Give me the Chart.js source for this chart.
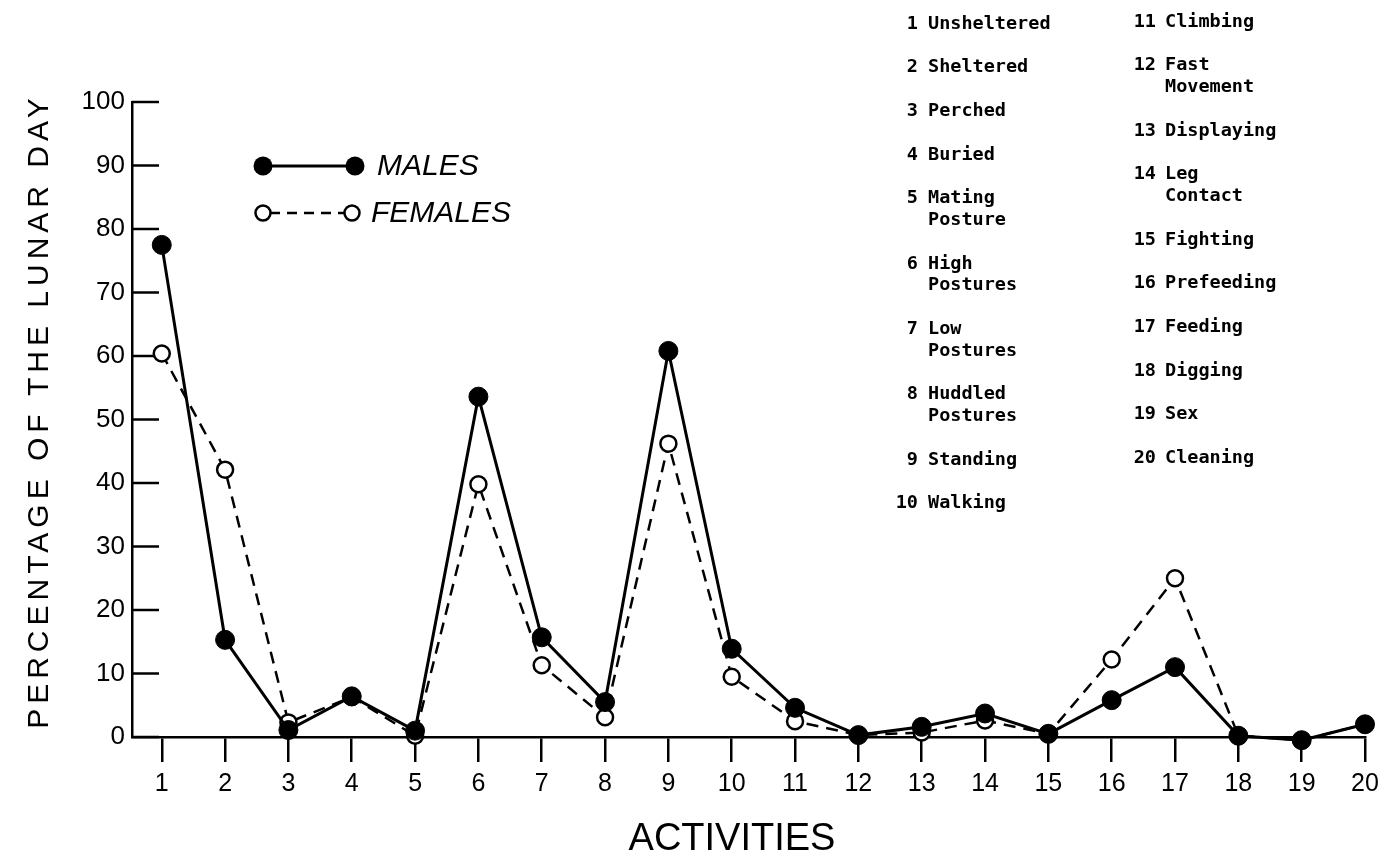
<!DOCTYPE html>
<html lang="en">
<head>
    <meta charset="UTF-8">
    <title>Percentage of the Lunar Day by Activity</title>
    <script src="https://cdn.jsdelivr.net/npm/chart.js"></script>
    <style>
        html, body { margin: 0; padding: 0; background: #fff; }
        #wrap { width: 1386px; height: 859px; position: relative; }
    </style>
</head>
<body>
    <div id="wrap"><canvas id="lunarChart"></canvas></div>
    <script>
        // activity numbers on the x axis and their names in the key
        const activityIds = [1, 2, 3, 4, 5, 6, 7, 8, 9, 10, 11, 12, 13, 14, 15, 16, 17, 18, 19, 20];
        const activityNames = [
            ['Unsheltered'], ['Sheltered'], ['Perched'], ['Buried'], ['Mating', 'Posture'],
            ['High', 'Postures'], ['Low', 'Postures'], ['Huddled', 'Postures'], ['Standing'], ['Walking'],
            ['Climbing'], ['Fast', 'Movement'], ['Displaying'], ['Leg', 'Contact'], ['Fighting'],
            ['Prefeeding'], ['Feeding'], ['Digging'], ['Sex'], ['Cleaning']
        ];
        // percentage of the lunar day
        const malesPct = [77.5, 15.3, 1.1, 6.4, 1.0, 53.6, 15.7, 5.5, 60.8, 13.9, 4.6, 0.3, 1.6, 3.7, 0.5, 5.8, 11.0, 0.2, -0.5, 2.0];
        const femalesPct = [60.4, 42.1, 2.3, 6.3, 0.2, 39.8, 11.3, 3.1, 46.2, 9.5, 2.5, 0.3, 0.7, 2.6, 0.5, 12.2, 25.0, 0.2, -0.5, 2.0];
        const yTicks = [0, 10, 20, 30, 40, 50, 60, 70, 80, 90, 100];

        const FONT = '"Liberation Sans", Arial, sans-serif';
        const MONO = '"DejaVu Sans Mono", monospace';

        // inward tick marks on the y axis
        const yInwardTicks = {
            id: 'yInwardTicks',
            beforeDatasetsDraw(chart) {
                const { ctx, chartArea, scales } = chart;
                ctx.save();
                ctx.strokeStyle = '#000';
                ctx.lineWidth = 2.5;
                yTicks.forEach(v => {
                    const y = scales.y.getPixelForValue(v);
                    ctx.beginPath();
                    ctx.moveTo(chartArea.left, y);
                    ctx.lineTo(chartArea.left + 27, y);
                    ctx.stroke();
                });
                ctx.restore();
            }
        };

        // axis titles (need letter spacing), legend and activity key
        const annotations = {
            id: 'annotations',
            afterDraw(chart) {
                const { ctx } = chart;
                ctx.save();
                ctx.fillStyle = '#000';
                ctx.strokeStyle = '#000';

                // y title
                ctx.save();
                ctx.translate(40, 411);
                ctx.rotate(-Math.PI / 2);
                ctx.font = '30px ' + FONT;
                ctx.letterSpacing = '5px';
                ctx.textAlign = 'center';
                ctx.textBaseline = 'middle';
                ctx.fillText('PERCENTAGE OF THE LUNAR DAY', 0, 0);
                ctx.restore();

                // x title
                ctx.font = '38px ' + FONT;
                ctx.textAlign = 'center';
                ctx.textBaseline = 'middle';
                ctx.fillText('ACTIVITIES', 732, 840);

                // legend
                ctx.lineWidth = 3;
                ctx.beginPath();
                ctx.moveTo(263, 166); ctx.lineTo(355, 166);
                ctx.stroke();
                [263, 355].forEach(x => {
                    ctx.beginPath(); ctx.arc(x, 166, 9.5, 0, Math.PI * 2); ctx.fill();
                });
                ctx.lineWidth = 2.5;
                ctx.setLineDash([10, 7]);
                ctx.beginPath();
                ctx.moveTo(270, 213); ctx.lineTo(345, 213);
                ctx.stroke();
                ctx.setLineDash([]);
                [263, 352].forEach(x => {
                    ctx.beginPath(); ctx.arc(x, 213, 7.5, 0, Math.PI * 2);
                    ctx.fillStyle = '#fff'; ctx.fill();
                    ctx.stroke();
                });
                ctx.fillStyle = '#000';
                ctx.font = 'italic 30px ' + FONT;
                ctx.textAlign = 'left';
                ctx.fillText('MALES', 377, 167);
                ctx.fillText('FEMALES', 371, 214);

                // activity key, two columns
                ctx.font = 'bold 18.5px ' + MONO;
                const lineH = 21.8;
                const cols = [
                    { from: 0, to: 10, numRight: 918, textLeft: 928, y: 24 },
                    { from: 10, to: 20, numRight: 1156, textLeft: 1165, y: 22 }
                ];
                cols.forEach(c => {
                    let y = c.y;
                    for (let i = c.from; i < c.to; i++) {
                        ctx.textAlign = 'right';
                        ctx.fillText(String(activityIds[i]), c.numRight, y);
                        ctx.textAlign = 'left';
                        activityNames[i].forEach((line, k) => ctx.fillText(line, c.textLeft, y + k * lineH));
                        y += (activityNames[i].length + 1) * lineH;
                    }
                });
                ctx.restore();
            }
        };

        const ctx = document.getElementById('lunarChart').getContext('2d');
        new Chart(ctx, {
            type: 'line',
            data: {
                datasets: [
                    {
                        label: 'MALES',
                        data: activityIds.map((a, i) => ({ x: a, y: malesPct[i] })),
                        borderColor: '#000',
                        borderWidth: 3,
                        pointRadius: 9.5,
                        pointBackgroundColor: '#000',
                        pointBorderColor: '#000',
                        pointBorderWidth: 1,
                        tension: 0,
                        clip: false
                    },
                    {
                        label: 'FEMALES',
                        data: activityIds.map((a, i) => ({ x: a, y: femalesPct[i] })),
                        borderColor: '#000',
                        borderWidth: 2.5,
                        borderDash: [12, 8],
                        pointRadius: 8,
                        pointBackgroundColor: '#fff',
                        pointBorderColor: '#000',
                        pointBorderWidth: 2.5,
                        tension: 0,
                        clip: false
                    }
                ]
            },
            options: {
                responsive: true,
                maintainAspectRatio: false,
                animation: false,
                layout: { padding: { top: 102, right: 21, bottom: 0, left: 0 } },
                plugins: { legend: { display: false }, tooltip: { enabled: false } },
                scales: {
                    x: {
                        type: 'linear',
                        min: 0.53,
                        max: 20,
                        afterBuildTicks: s => { s.ticks = activityIds.map(v => ({ value: v })); },
                        afterFit: s => { s.height = 122; },
                        grid: { drawOnChartArea: false, drawTicks: true, tickLength: 25, color: '#000', lineWidth: 2.5 },
                        border: { display: true, color: '#000', width: 2.5 },
                        ticks: { color: '#000', font: { family: FONT, size: 25 }, padding: 7, maxRotation: 0, autoSkip: false }
                    },
                    y: {
                        min: 0,
                        max: 100,
                        afterBuildTicks: s => { s.ticks = yTicks.map(v => ({ value: v })); },
                        afterFit: s => { s.width = 132; },
                        grid: { drawOnChartArea: false, drawTicks: false },
                        border: { display: true, color: '#000', width: 2.5 },
                        ticks: { color: '#000', font: { family: FONT, size: 26 }, padding: 7 }
                    }
                }
            },
            plugins: [yInwardTicks, annotations]
        });
    </script>
</body>
</html>
